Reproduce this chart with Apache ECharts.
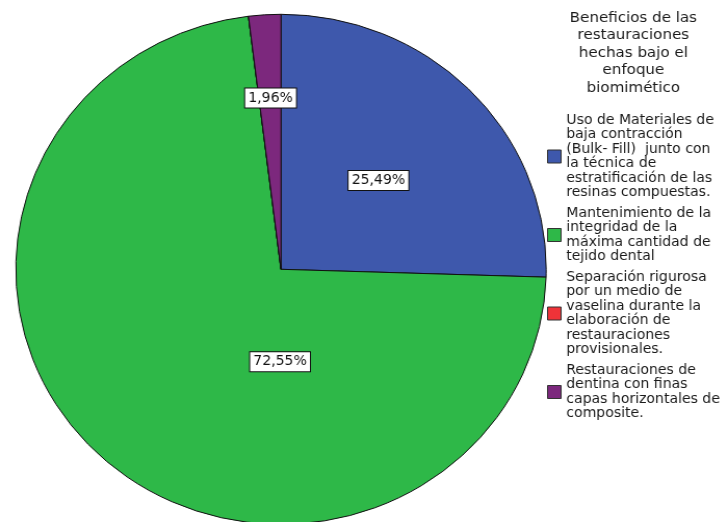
<!DOCTYPE html>
<html>
<head>
<meta charset="utf-8">
<script src="https://cdn.jsdelivr.net/npm/echarts@6/dist/echarts.min.js"></script>
<style>
  html, body { margin: 0; padding: 0; background: #fff; overflow: hidden; }
  #chart { width: 694px; height: 522px; transform: scaleX(1.04); transform-origin: 0 0; }
</style>
</head>
<body>
<div id="chart"></div>
<script>
const titleText = 'Beneficios de las\nrestauraciones\nhechas bajo el\nenfoque\nbiomimético';
const categories = [
  'Uso de Materiales de\nbaja contracción\n(Bulk- Fill)  junto con\nla técnica de\nestratificación de las\nresinas compuestas.',
  'Mantenimiento de la\nintegridad de la\nmáxima cantidad de\ntejido dental',
  'Separación rigurosa\npor un medio de\nvaselina durante la\nelaboración de\nrestauraciones\nprovisionales.',
  'Restauraciones de\ndentina con finas\ncapas horizontales de\ncomposite.'
];
const values = [13, 37, 0, 1];
const colors = ['#3E58AC', '#2EB848', '#EF3338', '#7C287D'];

const FONT = '"DejaVu Sans", sans-serif';
const labelShift = [[0, 2], [87, -4], [0, 0], [-2, -41]];

const chart = echarts.init(document.getElementById('chart'), null, { renderer: 'canvas' });
chart.setOption({
  animation: false,
  backgroundColor: '#fff',
  color: colors,
  title: {
    text: titleText,
    left: 609,
    top: 9,
    padding: 0,
    textAlign: 'center',
    textStyle: { fontFamily: FONT, fontSize: 14.5, fontWeight: 'normal', color: '#1a1a1a', lineHeight: 17.5 }
  },
  legend: {
    orient: 'vertical',
    left: 526,
    top: 113,
    padding: 0,
    itemWidth: 13,
    itemHeight: 13,
    itemGap: 6,
    icon: 'rect',
    selectedMode: false,
    itemStyle: { borderColor: '#333', borderWidth: 1 },
    textStyle: { fontFamily: FONT, fontSize: 13.5, color: '#1a1a1a', lineHeight: 14.5 },
    data: categories
  },
  series: [{
    type: 'pie',
    center: [270.2, 269.3],
    radius: 255,
    startAngle: 90,
    clockwise: true,
    silent: true,
    itemStyle: { borderColor: '#111', borderWidth: 1 },
    label: {
      show: true,
      position: 'inside',
      fontFamily: FONT,
      fontSize: 13.5,
      color: '#111',
      backgroundColor: '#fff',
      borderColor: '#111',
      borderWidth: 1,
      padding: [3, 3, 2, 3],
      formatter: p => p.percent.toFixed(2).replace('.', ',') + '%'
    },
    labelLine: { show: false },
    labelLayout: p => ({ dx: labelShift[p.dataIndex][0], dy: labelShift[p.dataIndex][1] }),
    data: categories.map((name, i) => ({
      name: name,
      value: values[i],
      label: { show: values[i] > 0 }
    }))
  }]
});
</script>
</body>
</html>
